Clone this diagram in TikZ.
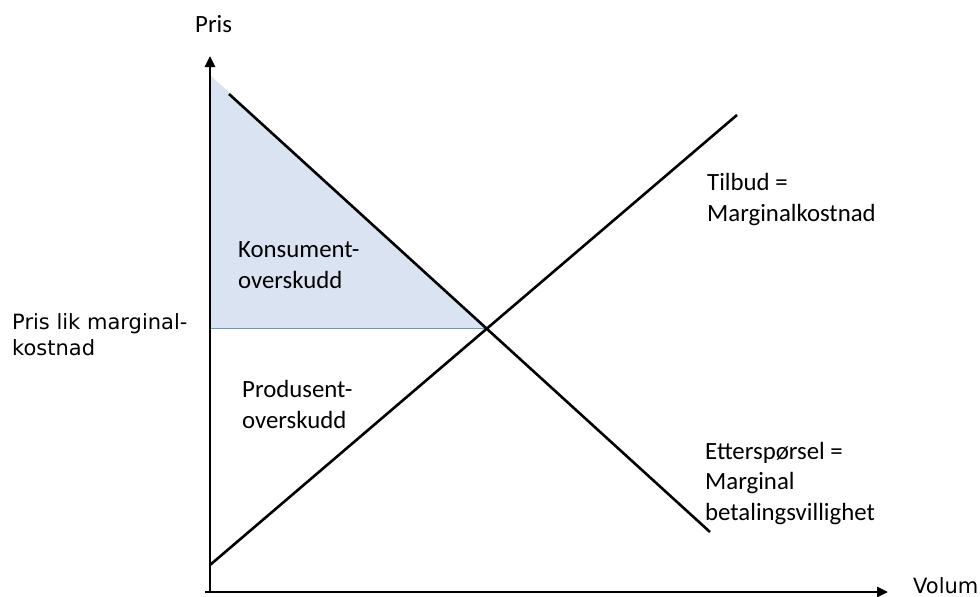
\documentclass[tikz,border=0pt]{standalone}
\usepackage{fontspec}
\setmainfont{Carlito}
\newfontfamily\verdana{DejaVu Sans}
\usetikzlibrary{arrows.meta}

\begin{document}
\begin{tikzpicture}[x=1pt,y=-1pt,
	curve/.style={line width=2.6pt},
	axis/.style={line width=2.6pt,-{Triangle[length=11pt,width=10pt]}},
	surplus/.style={fill={rgb,255:red,218;green,227;blue,242}},
	priceline/.style={line width=1pt,draw={rgb,255:red,91;green,155;blue,213}},
	lbl/.style={anchor=base west,inner sep=0pt,align=left,font=\fontsize{24.8}{30.5}\selectfont},
	side/.style={anchor=base west,inner sep=0pt,align=left,font=\verdana\fontsize{21}{25.5}\selectfont}]
	\useasboundingbox (0,0) rectangle (980,597);
	\coordinate (O) at (210,593);
	\coordinate (xstart) at (205,592);
	\coordinate (xend) at (888,592);
	\coordinate (ytop) at (210,56);
	\coordinate (E) at (486,328);
	\coordinate (pmax) at (210,75);
	\coordinate (pe) at (210,328);
	\coordinate (d1) at (229,94);
	\coordinate (d2) at (710,532);
	\coordinate (s1) at (210,565);
	\coordinate (s2) at (737,115);

	\fill[surplus] (pmax) -- (pe) -- (E) -- cycle;
	\draw[priceline] (pe) -- (E);
	\draw[curve] (d1) -- (d2);
	\draw[curve] (s1) -- (s2);
	\draw[axis] (xstart) -- (xend);
	\draw[axis] (O) -- (ytop);

	\node[lbl] (pris) at (195,32) {Pris};
	\node[side] (volum) at (913,593) {Volum};
	\node[side] (plik) at (12,355) {Pris lik marginal-\\kostnad};
	\node[lbl] (konsument) at (238,288) {Konsument-\\overskudd};
	\node[lbl] (produsent) at (242,428) {Produsent-\\overskudd};
	\node[lbl] (tilbud) at (707,221) {Tilbud =\\Marginalkostnad};
	\node[lbl] (ettersp) at (705,520) {Etterspørsel =\\Marginal\\betalingsvillighet};
\end{tikzpicture}
\end{document}
